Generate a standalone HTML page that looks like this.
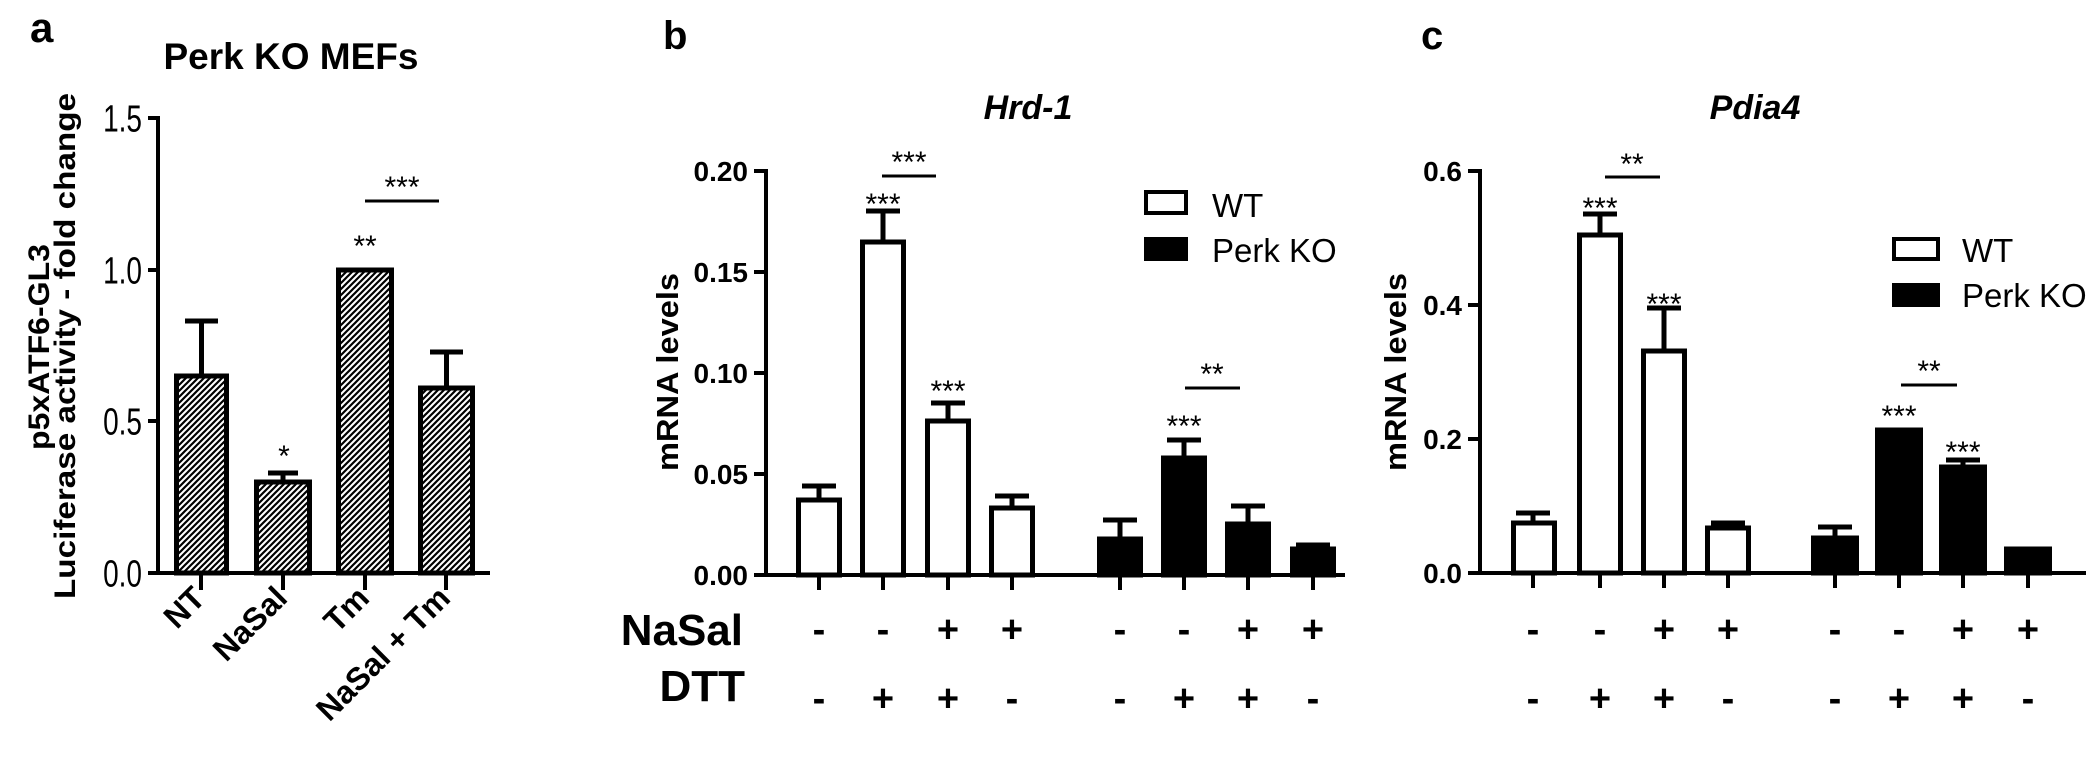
<!DOCTYPE html>
<html><head><meta charset="utf-8"><style>
html,body{margin:0;padding:0;background:#fff;}
svg{display:block;}
text{font-family:"Liberation Sans",Arial,sans-serif;fill:#000;}
.b{font-weight:bold;}
.st{font-size:30px;text-anchor:middle;}
.sg{font-size:38px;font-weight:bold;text-anchor:middle;}
.tk{font-size:28px;font-weight:bold;text-anchor:end;}
</style></head><body>
<svg width="2100" height="763" viewBox="0 0 2100 763" xmlns="http://www.w3.org/2000/svg">
<defs>
<pattern id="h" patternUnits="userSpaceOnUse" width="6" height="6">
<path d="M-1,1 l2,-2 M0,6 l6,-6 M5,7 l2,-2" stroke="#000" stroke-width="2.2"/>
</pattern>
</defs>

<!-- Panel a -->
<text x="30" y="42" class="b" font-size="42">a</text>
<text x="291" y="69" class="b" font-size="37" text-anchor="middle">Perk KO MEFs</text>
<text transform="translate(49,347) rotate(-90)" class="b" font-size="30" text-anchor="middle" textLength="206" lengthAdjust="spacingAndGlyphs">p5xATF6-GL3</text>
<text transform="translate(75,346) rotate(-90)" class="b" font-size="30" text-anchor="middle" textLength="506" lengthAdjust="spacingAndGlyphs">Luciferase activity - fold change</text>
<g stroke="#000" stroke-width="4" fill="none">
<line x1="158" y1="116" x2="158" y2="575"/>
<line x1="156" y1="573" x2="490" y2="573"/>
<line x1="148" y1="118" x2="158" y2="118"/>
<line x1="148" y1="270" x2="158" y2="270"/>
<line x1="148" y1="421" x2="158" y2="421"/>
<line x1="148" y1="573" x2="158" y2="573"/>
<line x1="201" y1="573" x2="201" y2="590"/>
<line x1="283" y1="573" x2="283" y2="590"/>
<line x1="365" y1="573" x2="365" y2="590"/>
<line x1="446" y1="573" x2="446" y2="590"/>
</g>
<g font-size="28" text-anchor="end" fill="#222">
<text transform="translate(142,131.5) scale(1,1.35)">1.5</text>
<text transform="translate(142,283.5) scale(1,1.35)">1.0</text>
<text transform="translate(142,434.5) scale(1,1.35)">0.5</text>
<text transform="translate(142,586.5) scale(1,1.35)">0.0</text>
</g>
<g stroke="#000" stroke-width="5">
<line x1="201.5" y1="376" x2="201.5" y2="321"/><line x1="185" y1="321" x2="218" y2="321"/>
<line x1="283" y1="482" x2="283" y2="473"/><line x1="268" y1="473" x2="298" y2="473"/>
<line x1="446.5" y1="388" x2="446.5" y2="352"/><line x1="430" y1="352" x2="463" y2="352"/>
</g>
<g fill="url(#h)" stroke="#000" stroke-width="5">
<rect x="176.5" y="376" width="50" height="197"/>
<rect x="256.5" y="482" width="53" height="91"/>
<rect x="338.5" y="270" width="53" height="303"/>
<rect x="420.5" y="388" width="52" height="185"/>
</g>
<line x1="365" y1="201" x2="439" y2="201" stroke="#000" stroke-width="3"/>
<text x="402" y="197" class="st">***</text>
<text x="365" y="256" class="st">**</text>
<text x="284" y="466" class="st">*</text>
<g class="b" font-size="32" text-anchor="end">
<text transform="translate(207,600) rotate(-45)">NT</text>
<text transform="translate(289,600) rotate(-45)">NaSal</text>
<text transform="translate(371,600) rotate(-45)">Tm</text>
<text transform="translate(452,600) rotate(-45)">NaSal + Tm</text>
</g>

<!-- Panel b -->
<text x="663" y="49" class="b" font-size="40">b</text>
<text x="1028" y="119" class="b" font-size="34" font-style="italic" text-anchor="middle">Hrd-1</text>
<text transform="translate(678,372) rotate(-90)" class="b" font-size="31" text-anchor="middle" textLength="198" lengthAdjust="spacingAndGlyphs">mRNA levels</text>
<g stroke="#000" stroke-width="4" fill="none">
<line x1="766" y1="169" x2="766" y2="577"/>
<line x1="764" y1="575" x2="1345" y2="575"/>
<line x1="754" y1="171" x2="766" y2="171"/>
<line x1="754" y1="272" x2="766" y2="272"/>
<line x1="754" y1="373" x2="766" y2="373"/>
<line x1="754" y1="474" x2="766" y2="474"/>
<line x1="754" y1="575" x2="766" y2="575"/>
<line x1="819" y1="575" x2="819" y2="590"/><line x1="883" y1="575" x2="883" y2="590"/>
<line x1="948" y1="575" x2="948" y2="590"/><line x1="1012" y1="575" x2="1012" y2="590"/>
<line x1="1120" y1="575" x2="1120" y2="590"/><line x1="1184" y1="575" x2="1184" y2="590"/>
<line x1="1248" y1="575" x2="1248" y2="590"/><line x1="1313" y1="575" x2="1313" y2="590"/>
</g>
<text x="748" y="585" class="tk">0.00</text>
<text x="748" y="484" class="tk">0.05</text>
<text x="748" y="383" class="tk">0.10</text>
<text x="748" y="282" class="tk">0.15</text>
<text x="748" y="181" class="tk">0.20</text>
<g stroke="#000" stroke-width="5">
<line x1="819" y1="500" x2="819" y2="486"/><line x1="802" y1="486" x2="836" y2="486"/>
<line x1="883" y1="242" x2="883" y2="211"/><line x1="866" y1="211" x2="900" y2="211"/>
<line x1="948" y1="421" x2="948" y2="403"/><line x1="931" y1="403" x2="965" y2="403"/>
<line x1="1012" y1="508" x2="1012" y2="496"/><line x1="995" y1="496" x2="1029" y2="496"/>
<line x1="1120" y1="539" x2="1120" y2="520"/><line x1="1103" y1="520" x2="1137" y2="520"/>
<line x1="1184" y1="458" x2="1184" y2="440"/><line x1="1167" y1="440" x2="1201" y2="440"/>
<line x1="1248" y1="524" x2="1248" y2="506"/><line x1="1231" y1="506" x2="1265" y2="506"/>
<line x1="1313" y1="549" x2="1313" y2="545"/><line x1="1296" y1="545" x2="1330" y2="545"/>
</g>
<g stroke="#000" stroke-width="5" fill="#fff">
<rect x="798.5" y="500" width="41" height="75"/>
<rect x="862.5" y="242" width="41" height="333"/>
<rect x="927.5" y="421" width="41" height="154"/>
<rect x="991.5" y="508" width="41" height="67"/>
</g>
<g stroke="#000" stroke-width="5" fill="#000">
<rect x="1099.5" y="539" width="41" height="36"/>
<rect x="1163.5" y="458" width="41" height="117"/>
<rect x="1227.5" y="524" width="41" height="51"/>
<rect x="1292.5" y="549" width="41" height="26"/>
</g>
<g stroke="#000" stroke-width="3">
<line x1="882" y1="176" x2="936" y2="176"/>
<line x1="1185" y1="388" x2="1240" y2="388"/>
</g>
<text x="883" y="214" class="st">***</text>
<text x="909" y="172" class="st">***</text>
<text x="948" y="401" class="st">***</text>
<text x="1184" y="436" class="st">***</text>
<text x="1212" y="384" class="st">**</text>
<rect x="1146" y="192" width="40" height="21" fill="#fff" stroke="#000" stroke-width="4"/>
<rect x="1144" y="237" width="44" height="24" fill="#000"/>
<text x="1212" y="217" font-size="33">WT</text>
<text x="1212" y="262" font-size="33">Perk KO</text>
<text x="743" y="645" class="b" font-size="44" text-anchor="end">NaSal</text>
<text x="745" y="701" class="b" font-size="44" text-anchor="end">DTT</text>
<g class="sg">
<text x="819" y="642">-</text><text x="883" y="642">-</text><text x="948" y="642">+</text><text x="1012" y="642">+</text>
<text x="1120" y="642">-</text><text x="1184" y="642">-</text><text x="1248" y="642">+</text><text x="1313" y="642">+</text>
<text x="819" y="711">-</text><text x="883" y="711">+</text><text x="948" y="711">+</text><text x="1012" y="711">-</text>
<text x="1120" y="711">-</text><text x="1184" y="711">+</text><text x="1248" y="711">+</text><text x="1313" y="711">-</text>
</g>

<!-- Panel c -->
<text x="1421" y="49" class="b" font-size="40">c</text>
<text x="1755" y="119" class="b" font-size="34" font-style="italic" text-anchor="middle">Pdia4</text>
<text transform="translate(1406,372) rotate(-90)" class="b" font-size="31" text-anchor="middle" textLength="198" lengthAdjust="spacingAndGlyphs">mRNA levels</text>
<g stroke="#000" stroke-width="4" fill="none">
<line x1="1480" y1="169" x2="1480" y2="575"/>
<line x1="1478" y1="573" x2="2086" y2="573"/>
<line x1="1468" y1="171" x2="1480" y2="171"/>
<line x1="1468" y1="305" x2="1480" y2="305"/>
<line x1="1468" y1="439" x2="1480" y2="439"/>
<line x1="1468" y1="573" x2="1480" y2="573"/>
<line x1="1533" y1="573" x2="1533" y2="588"/><line x1="1600" y1="573" x2="1600" y2="588"/>
<line x1="1664" y1="573" x2="1664" y2="588"/><line x1="1728" y1="573" x2="1728" y2="588"/>
<line x1="1835" y1="573" x2="1835" y2="588"/><line x1="1899" y1="573" x2="1899" y2="588"/>
<line x1="1963" y1="573" x2="1963" y2="588"/><line x1="2028" y1="573" x2="2028" y2="588"/>
</g>
<text x="1462" y="583" class="tk">0.0</text>
<text x="1462" y="449" class="tk">0.2</text>
<text x="1462" y="315" class="tk">0.4</text>
<text x="1462" y="181" class="tk">0.6</text>
<g stroke="#000" stroke-width="5">
<line x1="1533" y1="523" x2="1533" y2="513"/><line x1="1516" y1="513" x2="1550" y2="513"/>
<line x1="1600" y1="235" x2="1600" y2="214"/><line x1="1583" y1="214" x2="1617" y2="214"/>
<line x1="1664" y1="351" x2="1664" y2="308"/><line x1="1647" y1="308" x2="1681" y2="308"/>
<line x1="1728" y1="528" x2="1728" y2="523"/><line x1="1711" y1="523" x2="1745" y2="523"/>
<line x1="1835" y1="538" x2="1835" y2="527"/><line x1="1818" y1="527" x2="1852" y2="527"/>
<line x1="1963" y1="467" x2="1963" y2="460"/><line x1="1946" y1="460" x2="1980" y2="460"/>
</g>
<g stroke="#000" stroke-width="5" fill="#fff">
<rect x="1513.5" y="523" width="41" height="50"/>
<rect x="1579.5" y="235" width="41" height="338"/>
<rect x="1643.5" y="351" width="41" height="222"/>
<rect x="1707.5" y="528" width="41" height="45"/>
</g>
<g stroke="#000" stroke-width="5" fill="#000">
<rect x="1813.5" y="538" width="43" height="35"/>
<rect x="1877.5" y="430" width="43" height="143"/>
<rect x="1941.5" y="467" width="43" height="106"/>
<rect x="2006.5" y="549" width="43" height="24"/>
</g>
<g stroke="#000" stroke-width="3">
<line x1="1605" y1="177" x2="1660" y2="177"/>
<line x1="1901" y1="385" x2="1957" y2="385"/>
</g>
<text x="1600" y="218" class="st">***</text>
<text x="1632" y="174" class="st">**</text>
<text x="1664" y="314" class="st">***</text>
<text x="1899" y="426" class="st">***</text>
<text x="1929" y="381" class="st">**</text>
<text x="1963" y="462" class="st">***</text>
<rect x="1894" y="239" width="44" height="20" fill="#fff" stroke="#000" stroke-width="4"/>
<rect x="1892" y="283" width="48" height="24" fill="#000"/>
<text x="1962" y="262" font-size="33">WT</text>
<text x="1962" y="307" font-size="33">Perk KO</text>
<g class="sg">
<text x="1533" y="642">-</text><text x="1600" y="642">-</text><text x="1664" y="642">+</text><text x="1728" y="642">+</text>
<text x="1835" y="642">-</text><text x="1899" y="642">-</text><text x="1963" y="642">+</text><text x="2028" y="642">+</text>
<text x="1533" y="711">-</text><text x="1600" y="711">+</text><text x="1664" y="711">+</text><text x="1728" y="711">-</text>
<text x="1835" y="711">-</text><text x="1899" y="711">+</text><text x="1963" y="711">+</text><text x="2028" y="711">-</text>
</g>
</svg>
</body></html>
